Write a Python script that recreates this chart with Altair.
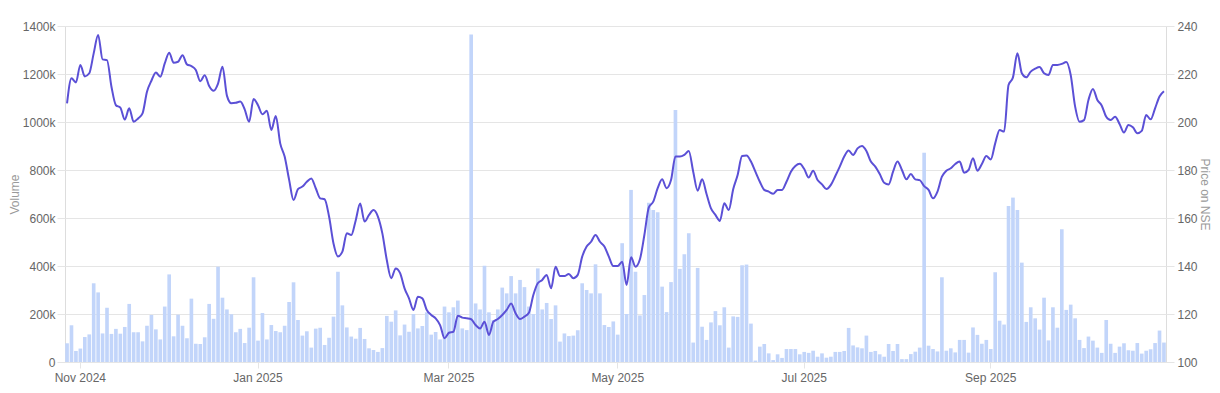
import altair as alt
import pandas as pd

# ---- data (volume in thousands, price in INR) ----
volume_k_1 = [78,153,46,56,104,115,328,290,119,226,117,138,118,146,242,124,124,86,151,196,136,94,231,365,107,197,151,99,264,76,75]
volume_k_2 = [103,242,180,397,268,219,199,124,138,79,143,353,89,204,94,154,129,124,151,250,332,175,110,128,60,139,143,71,101,189,376]
volume_k_3 = [236,144,106,97,142,96,57,50,42,58,192,168,215,111,156,126,200,140,150,207,114,125,94,231,207,228,256,140,133,1365,244]
volume_k_4 = [219,401,207,175,219,310,286,358,286,342,312,231,200,390,219,246,179,236,85,119,108,110,132,328,300,286,407,286,154,146,169]
volume_k_5 = [114,495,200,717,376,194,279,664,633,624,314,208,333,1050,388,449,536,81,392,147,92,165,212,153,228,60,190,188,403,406,160]
volume_k_6 = [6,64,75,36,8,32,17,54,54,54,32,42,38,47,22,36,18,22,42,42,46,142,69,61,57,110,42,46,32,22,75]
volume_k_7 = [46,75,12,12,33,43,60,872,68,54,44,353,47,57,40,92,92,39,144,113,76,92,54,374,172,156,650,685,633,414,167]
volume_k_8 = [228,182,135,268,90,228,143,553,217,239,182,92,58,106,89,60,38,175,76,38,64,78,49,47,79,35,47,53,79,131,81]

price_1 = [207.8,218.2,216.5,223.8,219.0,220.3,228.6,236.3,226.1,225.8,214.7,207.0,206.0,201.0,205.7,200.1,201.5,203.6,212.6,217.2,220.6,218.9,224.4,228.9,224.7,225.1,227.8,224.0,223.3,221.7,217.0]
price_2 = [219.5,215.0,213.0,216.0,223.0,211.0,207.8,208.0,208.5,205.3,200.1,209.6,207.0,203.2,204.7,196.7,202.5,191.1,185.6,176.0,167.5,172.0,173.1,175.1,176.5,172.4,168.2,167.8,160.6,149.4,144.0]
price_3 = [146.0,153.6,152.9,159.0,166.0,158.5,161.3,163.3,160.6,153.6,142.5,134.9,139.0,137.0,130.7,126.5,121.7,127.2,126.5,121.7,119.6,118.2,115.4,109.9,112.2,112.6,119.3,118.5,118.2,117.8,115.4]
price_4 = [114.0,116.8,111.3,116.8,117.9,119.6,121.7,124.4,120.3,117.9,118.9,120.5,127.9,132.8,134.2,136.3,130.7,139.7,135.8,135.8,136.7,134.9,136.3,143.9,148.1,150.1,152.9,150.1,148.1,143.9,140.0]
price_5 = [140.0,141.8,132.1,143.6,139.7,142.8,152.9,164.4,166.8,172.4,176.1,172.4,175.8,185.6,185.6,186.3,187.9,179.3,171.4,176.1,170.0,164.0,161.3,158.8,166.1,163.3,172.0,177.9,185.8,186.0,183.5]
price_6 = [179.3,175.1,171.7,171.0,170.1,171.7,171.7,175.1,179.3,181.7,182.6,180.4,176.9,179.7,175.8,174.0,172.1,173.8,177.5,181.4,185.6,188.1,186.3,189.0,190.0,187.9,183.5,181.4,178.3,174.7,174.0]
price_7 = [179.3,183.5,180.0,176.1,178.3,176.1,175.8,173.3,171.7,168.2,171.0,177.2,179.7,180.7,182.5,183.5,178.9,180.0,184.9,179.7,182.5,185.8,184.4,191.1,196.7,196.0,215.4,218.6,228.6,220.3,218.6]
price_8 = [221.0,222.2,222.9,220.3,219.6,223.8,223.8,224.2,225.0,219.6,206.4,200.1,200.8,209.2,213.8,209.2,206.8,202.2,200.8,202.2,199.2,195.6,198.8,197.8,195.3,196.3,202.9,201.1,205.7,210.6,212.8]

# trading calendar (NSE)
holidays = ["2024-11-15","2024-11-20","2024-12-25","2025-02-26","2025-03-14","2025-03-31",
            "2025-04-10","2025-04-14","2025-04-18","2025-05-01","2025-08-15","2025-08-27",
            "2025-10-02","2025-10-22"]
extra_sessions = ["2025-02-01"]
tick_dates = ["2024-11-01","2025-01-01","2025-03-03","2025-05-02","2025-07-01","2025-09-01"]

volume_k = volume_k_1 + volume_k_2 + volume_k_3 + volume_k_4 + volume_k_5 + volume_k_6 + volume_k_7 + volume_k_8
price = price_1 + price_2 + price_3 + price_4 + price_5 + price_6 + price_7 + price_8

days = pd.bdate_range("2024-10-29", "2025-10-31")
days = days[~days.isin(pd.to_datetime(holidays))].union(pd.to_datetime(extra_sessions))
dates = [d.strftime("%Y-%m-%d") for d in days]
n = min(len(dates), len(volume_k), len(price))

df = pd.DataFrame({"date": dates[:n], "vol": volume_k[:n], "price": price[:n]})

GRID = "#e5e5e5"
TXT = "#666666"
TTL = "#9a9a9a"

x_enc = alt.X(
    "date:O",
    sort=None,
    scale=alt.Scale(paddingInner=0.18, paddingOuter=0.05),
    axis=alt.Axis(
        values=tick_dates,
        labelExpr="utcFormat(toDate(datum.value), '%b %Y')",
        labelAngle=0,
        title=None,
        domain=False,
        grid=False,
        tickColor=GRID,
        tickSize=6,
        labelPadding=4,
        labelColor=TXT,
        labelFontSize=12,
    ),
)

bars = alt.Chart(df).mark_bar(color="#c2d5fa").encode(
    x=x_enc,
    y=alt.Y(
        "vol:Q",
        scale=alt.Scale(domain=[0, 1400], nice=False),
        axis=alt.Axis(
            orient="left",
            values=list(range(0, 1401, 200)),
            labelExpr="datum.value == 0 ? '0' : datum.value + 'k'",
            title="Volume",
            titleColor=TTL,
            titleFontWeight="normal",
            titleFontSize=12,
            titlePadding=1,
            grid=True,
            gridColor=GRID,
            domain=False,
            tickColor=GRID,
            tickSize=8,
            labelPadding=2,
            labelColor=TXT,
            labelFontSize=12,
        ),
    ),
)

line = alt.Chart(df).mark_line(color="#5b50d6", strokeWidth=2, interpolate="monotone").encode(
    x=alt.X("date:O", sort=None),
    y=alt.Y(
        "price:Q",
        scale=alt.Scale(domain=[100, 240], nice=False),
        axis=alt.Axis(
            orient="right",
            values=list(range(100, 241, 20)),
            title="Price on NSE",
            titleColor=TTL,
            titleFontWeight="normal",
            titleFontSize=12,
            titlePadding=0,
            grid=False,
            domain=False,
            tickColor=GRID,
            tickSize=8,
            labelPadding=3,
            labelColor=TXT,
            labelFontSize=12,
        ),
    ),
)

chart = (
    alt.layer(bars, line)
    .resolve_scale(y="independent")
    .properties(
        width=1101,
        height=336,
        autosize=alt.AutoSizeParams(type="none"),
        padding={"left": 57, "top": 18, "right": 46, "bottom": 23},
    )
    .configure_view(stroke=None)
    .configure(font="Liberation Sans")
)

chart.save("out.html", embed_options={"renderer": "svg", "actions": False})
